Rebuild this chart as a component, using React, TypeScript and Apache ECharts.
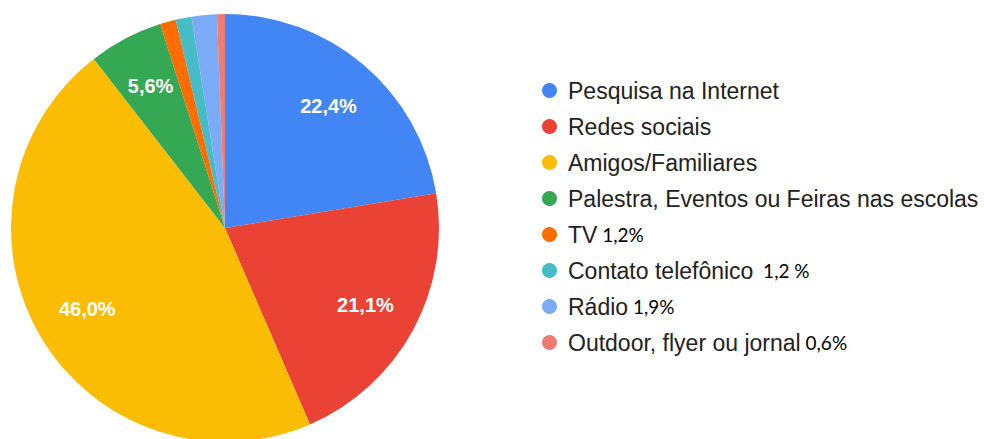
import React, { useEffect, useRef } from "react";
import * as echarts from "echarts";

const categories = [
  "Pesquisa na Internet",
  "Redes sociais",
  "Amigos/Familiares",
  "Palestra, Eventos ou Feiras nas escolas",
  "TV",
  "Contato telefônico",
  "Rádio",
  "Outdoor, flyer ou jornal",
];
const values = [22.4, 21.1, 46.0, 5.6, 1.2, 1.2, 1.9, 0.6];
const legendSuffixes = ["", "", "", "", " 1,2%", "  1,2 %", " 1,9%", " 0,6%"];
const colors = ["#4285F4", "#EA4335", "#FBBC04", "#34A853", "#FF6D01", "#46BDC6", "#7BAAF7", "#F07B72"];

export default function App() {
  const ref = useRef<HTMLDivElement>(null);
  useEffect(() => {
    if (!ref.current) return;
    const chart = echarts.init(ref.current, undefined, { renderer: "svg" });
    const data = categories.map((name, i) => ({
      name,
      value: values[i],
      itemStyle: { color: colors[i] },
    }));
    const fmt = (v: number) => v.toFixed(1).replace(".", ",") + "%";
    chart.setOption({
      animation: false,
      backgroundColor: "#ffffff",
      legend: {
        orient: "vertical",
        left: 537,
        top: 74,
        icon: "circle",
        itemWidth: 15,
        itemHeight: 15,
        itemGap: 13,
        selectedMode: false,
        data: categories,
        formatter: (name: string) => {
          const i = categories.indexOf(name);
          const s = legendSuffixes[i];
          return s ? `${name}{p|${s}}` : name;
        },
        textStyle: {
          fontFamily: "Liberation Sans, Arial, sans-serif",
          fontSize: 23,
          lineHeight: 22,
          color: "#222222",
          padding: [0, 0, 0, 6],
          rich: {
            p: {
              fontFamily: "Lato, sans-serif",
              fontSize: 19,
              lineHeight: 22,
              color: "#000000",
            },
          },
        },
      },
      series: [
        {
          type: "pie",
          center: [225, 228],
          radius: [0, 214],
          startAngle: 90,
          clockwise: true,
          avoidLabelOverlap: false,
          label: { show: false },
          labelLine: { show: false },
          itemStyle: { borderWidth: 0 },
          emphasis: { disabled: true },
          data,
        },
        {
          type: "pie",
          center: [225, 228],
          radius: [100, 214],
          startAngle: 90,
          clockwise: true,
          silent: true,
          legendHoverLink: false,
          avoidLabelOverlap: false,
          itemStyle: { color: "rgba(0,0,0,0)", borderWidth: 0 },
          labelLine: { show: false },
          emphasis: { disabled: true },
          label: {
            show: true,
            position: "inside",
            color: "#ffffff",
            fontFamily: "Liberation Sans, Arial, sans-serif",
            fontWeight: "bold",
            fontSize: 20,
            textBorderWidth: 0,
            formatter: (p: any) => (p.value >= 5 ? fmt(p.value) : ""),
          },
          data: categories.map((name, i) => ({ name, value: values[i] })),
        },
      ],
    });
    return () => chart.dispose();
  }, []);
  return (
    <div
      ref={ref}
      style={{ position: "absolute", left: 0, top: 0, width: 984, height: 439 }}
    />
  );
}
